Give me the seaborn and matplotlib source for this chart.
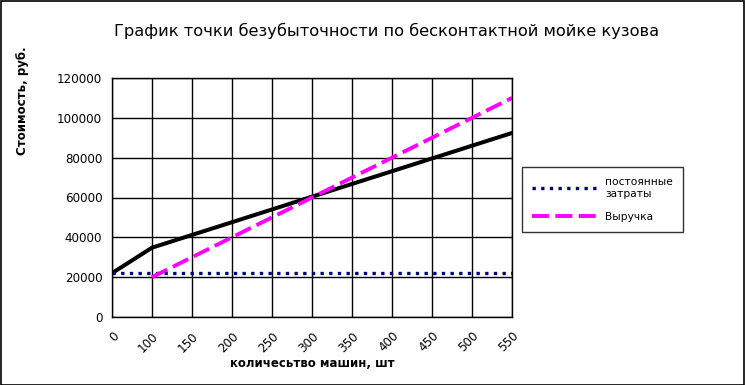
import matplotlib
matplotlib.use("Agg")
import matplotlib.pyplot as plt
import seaborn as sns
import pandas as pd
import numpy as np
from matplotlib.patches import Rectangle

categories = ["0", "100", "150", "200", "250", "300", "350", "400", "450", "500", "550"]
fixed_costs = [22000] * 11
total_costs = [22000, 34800, 41200, 47600, 54000, 60400, 66800, 73200, 79600, 86000, 92400]
revenue = [None, 20000, 30000, 40000, 50000, 60000, 70000, 80000, 90000, 100000, 110000]
y_ticks = [0, 20000, 40000, 60000, 80000, 100000, 120000]

sns.set_style("white")
plt.rcParams['font.family'] = ['DejaVu Sans']
plt.rcParams['text.color'] = 'black'
plt.rcParams['axes.labelcolor'] = 'black'
plt.rcParams['xtick.color'] = 'black'
plt.rcParams['ytick.color'] = 'black'

pos = np.arange(len(categories))
df = pd.DataFrame({"pos": pos, "fixed": fixed_costs, "total": total_costs,
                   "revenue": pd.array(revenue, dtype="Float64").astype(float)})

fig = plt.figure(figsize=(7.45, 3.85), dpi=100)
ax = fig.add_axes([112/745, 68/385, 400/745, 239/385])

sns.lineplot(data=df, x="pos", y="total", ax=ax, color="black", linewidth=2.9, label="_nolegend_")
sns.lineplot(data=df, x="pos", y="fixed", ax=ax, color="#000080", linewidth=2.4,
             linestyle=(0, (1, 1.6)), label="постоянные\nзатраты")
sns.lineplot(data=df.dropna(), x="pos", y="revenue", ax=ax, color="#FF00FF", linewidth=2.8,
             linestyle=(0, (4.4, 1.6)), label="Выручка")

ax.set_xlim(0, len(categories) - 1)
ax.set_ylim(0, 120000)
ax.set_xticks(pos)
ax.set_xticklabels(categories, rotation=45, ha="right", rotation_mode="anchor", fontsize=8.6)
ax.set_yticks(y_ticks)
ax.set_yticklabels([str(v) for v in y_ticks], fontsize=8.6)
ax.tick_params(axis="both", which="major", direction="out", length=4, width=1, color="black", pad=3)
ax.tick_params(axis="x", pad=5)
ax.grid(True, color="black", linewidth=1)
for s in ax.spines.values():
    s.set_color("black")
    s.set_linewidth(1)

ax.set_xlabel("количесьтво машин, шт", fontsize=8.5, fontweight="bold", labelpad=2)
ax.set_ylabel("Стоимость, руб.", fontsize=8.5, fontweight="bold")
ax.yaxis.set_label_coords(-0.2075, 0.905, transform=ax.transAxes)

fig.suptitle("График точки безубыточности по бесконтактной мойке кузова", x=387/745, y=1 - 31/385,
             fontsize=11.7, va="center", color="black")

leg = ax.legend(loc="upper left", bbox_to_anchor=(522/745, 1 - 167/385),
                bbox_transform=fig.transFigure, fontsize=7.7, frameon=True, fancybox=False,
                handlelength=6.3, borderpad=0.95, labelspacing=1.25, handletextpad=0.55,
                borderaxespad=0)
leg.get_frame().set_edgecolor("black")
leg.get_frame().set_linewidth(1)

fig.patches.append(Rectangle((0.5/745, 0.5/385), 1 - 1.5/745, 1 - 1.5/385, transform=fig.transFigure,
                             fill=False, edgecolor="black", linewidth=1.2))

fig.savefig("out.png", dpi=100)
